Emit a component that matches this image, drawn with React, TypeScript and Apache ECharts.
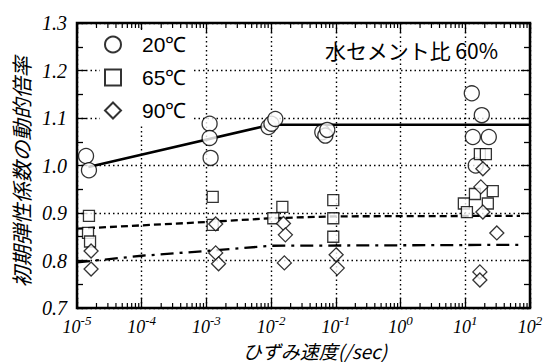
import React, { useEffect, useRef } from "react";
import * as echarts from "echarts";

// 20℃ (circles)
const circX = [1.38e-5, 1.53e-5, 1.12e-3, 1.12e-3, 1.16e-3, 9.1e-3, 1.01e-2, 1.16e-2, 0.0617, 0.0687, 0.0737, 12.6, 18.0, 13.1, 23.1, 14.5];
const circY = [1.02, 0.99, 1.088, 1.058, 1.016, 1.081, 1.088, 1.098, 1.07, 1.063, 1.075, 1.152, 1.106, 1.06, 1.06, 1.0];
// 65℃ (squares)
const sqX = [1.53e-5, 1.48e-5, 1.59e-5, 1.25e-3, 1.25e-3, 1.08e-2, 1.49e-2, 0.0912, 0.0912, 0.0912, 16.8, 20.8, 26.6, 14.1, 22.3, 9.5, 10.6];
const sqY = [0.894, 0.858, 0.84, 0.934, 0.875, 0.889, 0.913, 0.927, 0.889, 0.85, 1.024, 1.024, 0.946, 0.94, 0.92, 0.92, 0.902];
// 90℃ (diamonds)
const dmX = [1.65e-5, 1.65e-5, 1.39e-3, 1.39e-3, 1.54e-3, 1.55e-2, 1.66e-2, 1.6e-2, 0.101, 0.105, 18.7, 17.4, 18.7, 30.7, 16.8, 16.8];
const dmY = [0.82, 0.782, 0.877, 0.816, 0.793, 0.878, 0.854, 0.795, 0.812, 0.784, 0.993, 0.955, 0.902, 0.858, 0.776, 0.759];

// fitted curves
const fit20X = [1.5e-5, 1e-2, 100];
const fit20Y = [0.997, 1.086, 1.086];
const fit65X = [1e-5, 1e-4, 1e-3, 1e-2, 0.1, 70];
const fit65Y = [0.867, 0.874, 0.881, 0.889, 0.893, 0.894];
const fit90X = [1e-5, 1e-4, 1e-3, 1e-2, 70];
const fit90Y = [0.796, 0.81, 0.82, 0.831, 0.833];

const legendNames = ["20℃", "65℃", "90℃"];
const decades = [-5, -4, -3, -2, -1, 0, 1];
const minorMult = [2, 3, 4, 5, 6, 7, 8, 9];

const zip = (xs: number[], ys: number[]) => xs.map((x, i) => [x, ys[i]]);

export default function App() {
  const ref = useRef<HTMLDivElement>(null);
  useEffect(() => {
    if (!ref.current) return;
    const chart = echarts.init(ref.current, null, { renderer: "svg" });
    const minorTicks: number[][] = [];
    decades.forEach((d) => minorMult.forEach((m) => minorTicks.push([m * Math.pow(10, d), 0.7])));

    const markerStyle = { color: "#fff", borderColor: "#000", borderWidth: 1.3 };
    const serif = "Liberation Serif, DejaVu Serif, serif";
    const sans = "Liberation Sans";
    const cjk = "Noto Sans CJK JP";

    const option: any = {
      animation: false,
      backgroundColor: "#fff",
      grid: { left: 77, right: 21, top: 23, bottom: 54, show: true, borderColor: "#000", borderWidth: 2.5, backgroundColor: "transparent" },
      legend: {
        data: legendNames,
        orient: "vertical",
        left: 100,
        top: 30,
        itemWidth: 16,
        itemHeight: 16,
        itemGap: 12,
        backgroundColor: "#fff",
        padding: [4, 6, 4, 4],
        textStyle: { fontSize: 21, fontFamily: sans, color: "#000", padding: [0, 0, 0, 16] },
      },
      xAxis: [
        {
          type: "log",
          logBase: 10,
          min: 1e-5,
          max: 100,
          interval: 1,
          axisLine: { show: false },
          axisTick: { show: true, inside: true, length: 10, lineStyle: { color: "#000", width: 1.3 } },
          splitLine: { show: true, lineStyle: { color: "#000", type: [1.5, 3], width: 1.4 } },
          axisLabel: {
            margin: 6,
            fontFamily: serif,
            fontStyle: "italic",
            formatter: (v: number) => `{b|10}{s|${Math.round(Math.log10(v))}}`,
            rich: {
              b: { fontSize: 18, fontFamily: serif, fontStyle: "italic", color: "#000", lineHeight: 22, verticalAlign: "bottom" },
              s: { fontSize: 13, fontFamily: serif, fontStyle: "italic", color: "#000", lineHeight: 22, verticalAlign: "top" },
            },
          },
        },
        {
          type: "log",
          logBase: 10,
          min: 1e-5,
          max: 100,
          interval: 1,
          position: "top",
          axisLine: { show: false },
          axisTick: { show: true, inside: true, length: 10, lineStyle: { color: "#000", width: 1.3 } },
          axisLabel: { show: false },
          splitLine: { show: false },
        },
      ],
      yAxis: [
        {
          type: "value",
          min: 0.7,
          max: 1.3,
          interval: 0.1,
          axisLine: { show: false },
          axisTick: { show: true, inside: true, length: 9, lineStyle: { color: "#000", width: 1.3 } },
          minorTick: { show: true, splitNumber: 2, length: 6, lineStyle: { color: "#000", width: 1.3 } },
          splitLine: { show: true, lineStyle: { color: "#000", type: [1.5, 3], width: 1.4 } },
          axisLabel: {
            margin: 10,
            fontFamily: serif,
            fontStyle: "italic",
            fontSize: 20,
            color: "#000",
            formatter: (v: number) => v.toFixed(1),
          },
        },
        {
          type: "value",
          min: 0.7,
          max: 1.3,
          interval: 0.1,
          position: "right",
          axisLine: { show: false },
          axisTick: { show: true, inside: true, length: 9, lineStyle: { color: "#000", width: 1.3 } },
          minorTick: { show: true, splitNumber: 2, length: 6, lineStyle: { color: "#000", width: 1.3 } },
          splitLine: { show: false },
          axisLabel: { show: false },
        },
      ],
      graphic: [
        {
          type: "text",
          x: 21,
          y: 172,
          rotation: Math.PI / 2,
          style: {
            text: "初期弾性係数の動的倍率",
            fontSize: 21,
            fontFamily: cjk,
            fontStyle: "italic",
            fill: "#000",
            align: "center",
            verticalAlign: "middle",
          },
        },
        {
          type: "text",
          x: 315,
          y: 350,
          style: {
            text: "ひずみ速度(/sec)",
            fontSize: 19,
            fontFamily: cjk,
            fontStyle: "italic",
            fill: "#000",
            align: "center",
            verticalAlign: "middle",
          },
        },
        {
          type: "text",
          x: 498,
          y: 50,
          style: {
            text: "水セメント比 60%",
            fontSize: 21,
            fontFamily: cjk,
            fill: "#000",
            align: "right",
            verticalAlign: "middle",
          },
        },
      ],
      series: [
        {
          type: "custom",
          silent: true,
          renderItem: (params: any, api: any) => {
            const v = api.value(0);
            const b = api.coord([v, 0.7]);
            const t = api.coord([v, 1.3]);
            return {
              type: "group",
              children: [
                { type: "line", shape: { x1: b[0], y1: b[1], x2: b[0], y2: b[1] - 5 }, style: { stroke: "#000", lineWidth: 1.2 } },
                { type: "line", shape: { x1: t[0], y1: t[1], x2: t[0], y2: t[1] + 5 }, style: { stroke: "#000", lineWidth: 1.2 } },
              ],
            };
          },
          data: minorTicks,
          z: 1,
        },
        { type: "line", data: zip(fit20X, fit20Y), symbol: "none", lineStyle: { color: "#000", width: 2.5 }, z: 2 },
        { type: "line", data: zip(fit65X, fit65Y), symbol: "none", lineStyle: { color: "#000", width: 2.3, type: [7, 4] }, z: 2 },
        { type: "line", data: zip(fit90X, fit90Y), symbol: "none", lineStyle: { color: "#000", width: 2.3, type: [13, 6, 3, 6] }, z: 2 },
        { name: legendNames[0], type: "scatter", symbol: "circle", symbolSize: 15, data: zip(circX, circY), itemStyle: markerStyle, z: 3 },
        { name: legendNames[1], type: "scatter", symbol: "rect", symbolSize: 11, data: zip(sqX, sqY), itemStyle: markerStyle, z: 4 },
        { name: legendNames[2], type: "scatter", symbol: "diamond", symbolSize: 14, data: zip(dmX, dmY), itemStyle: markerStyle, z: 5 },
      ],
    };
    chart.setOption(option);
    return () => chart.dispose();
  }, []);
  return <div ref={ref} style={{ position: "fixed", left: 0, top: 0, width: 551, height: 362 }} />;
}
